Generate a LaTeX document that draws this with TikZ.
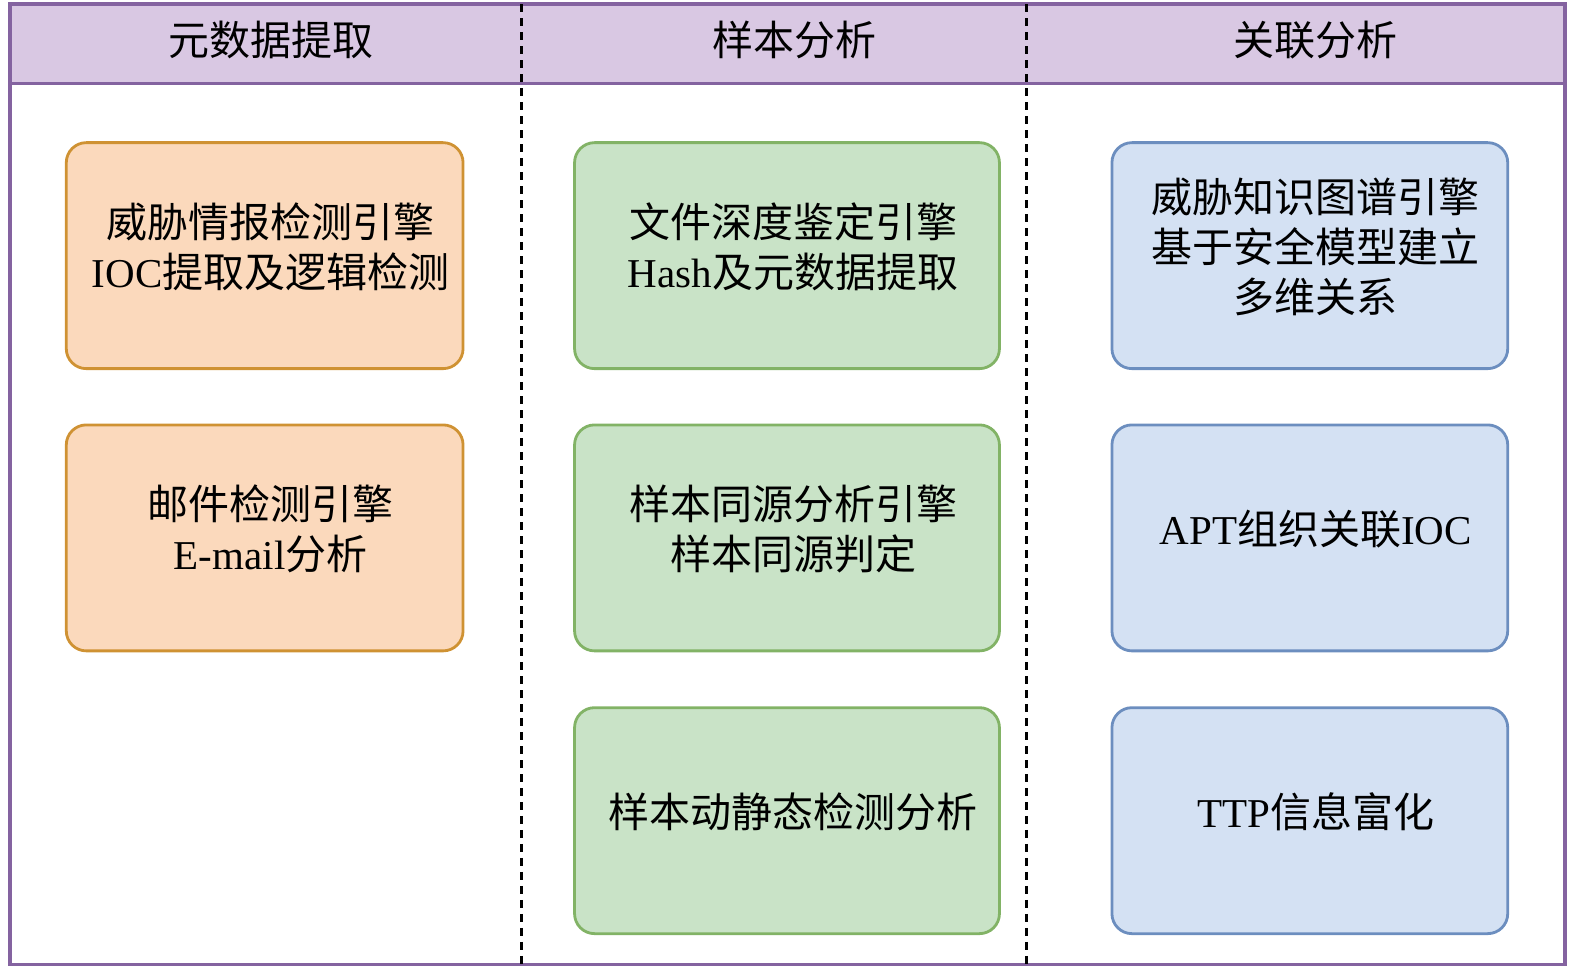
\documentclass[tikz,border=0pt]{standalone}
\usepackage{fontspec}
\setmainfont{Liberation Serif}
\newfontfamily\cjk{Noto Sans CJK SC}
\usetikzlibrary{calc}
\newcommand{\zh}[1]{{\cjk #1}}
\definecolor{hdrfill}{HTML}{D9C8E3}
\definecolor{hdrline}{HTML}{8463A0}
\definecolor{ofill}{HTML}{FBD9BC}
\definecolor{oline}{HTML}{CF9233}
\definecolor{gfill}{HTML}{C9E3C7}
\definecolor{gline}{HTML}{82B366}
\definecolor{bfill}{HTML}{D4E1F3}
\definecolor{bline}{HTML}{6C8EBF}
\begin{document}
\begin{tikzpicture}[x=1.0045pt,y=-1.0045pt,
  frame/.style={draw=hdrline,line width=3.2pt},
  divider/.style={draw=black,line width=2.4pt,dash pattern=on 8pt off 6pt},
  boxbase/.style={rectangle,rounded corners=20pt,line width=2.8pt,minimum height=226pt,inner sep=0pt},
  obox/.style={boxbase,draw=oline,fill=ofill,minimum width=396.8pt},
  gbox/.style={boxbase,draw=gline,fill=gfill,minimum width=424.9pt},
  bbox/.style={boxbase,draw=bline,fill=bfill,minimum width=395.8pt},
  txt/.style={align=center,inner sep=0pt,font=\fontsize{41}{50}\selectfont},
]
\useasboundingbox (0,0) rectangle (1568,962);
% frame
\draw[frame,fill=hdrfill] (10,4) rectangle (1558,83);
\draw[frame] (10,83) rectangle (1558,960);
% dividers
\coordinate (d1t) at (519,4);
\coordinate (d1b) at (519,960);
\coordinate (d2t) at (1022,4);
\coordinate (d2b) at (1022,960);
\draw[divider] (d1t) -- (d1b);
\draw[divider] (d2t) -- (d2b);
% headers
\node[txt] (h1) at (270,40) {\zh{元数据提取}};
\node[txt] (h2) at (791,40) {\zh{样本分析}};
\node[txt] (h3) at (1310,40) {\zh{关联分析}};
% boxes
\node[obox] (a1) at (263.5,254.5) {};
\node[obox] (a2) at (263.5,535.5) {};
\node[gbox] (b1) at (783.5,254.5) {};
\node[gbox] (b2) at (783.5,535.5) {};
\node[gbox] (b3) at (783.5,817) {};
\node[bbox] (c1) at (1304,254.5) {};
\node[bbox] (c2) at (1304,535.5) {};
\node[bbox] (c3) at (1304,817) {};
% texts
\node[txt] (ta1) at ($(a1.center)+(6,-9)$) {\zh{威胁情报检测引擎}\\IOC\zh{提取及逻辑检测}};
\node[txt] (ta2) at ($(a2.center)+(6,-9)$) {\zh{邮件检测引擎}\\E-mail\zh{分析}};
\node[txt] (tb1) at ($(b1.center)+(6,-9)$) {\zh{文件深度鉴定引擎}\\Hash\zh{及元数据提取}};
\node[txt] (tb2) at ($(b2.center)+(6,-9)$) {\zh{样本同源分析引擎}\\\zh{样本同源判定}};
\node[txt] (tb3) at ($(b3.center)+(6,-9)$) {\zh{样本动静态检测分析}};
\node[txt] (tc1) at ($(c1.center)+(6,-8.5)$) {\zh{威胁知识图谱引擎}\\\zh{基于安全模型建立}\\\zh{多维关系}};
\node[txt] (tc2) at ($(c2.center)+(6,-9)$) {APT\zh{组织关联}IOC};
\node[txt] (tc3) at ($(c3.center)+(6,-9)$) {TTP\zh{信息富化}};
\end{tikzpicture}
\end{document}
